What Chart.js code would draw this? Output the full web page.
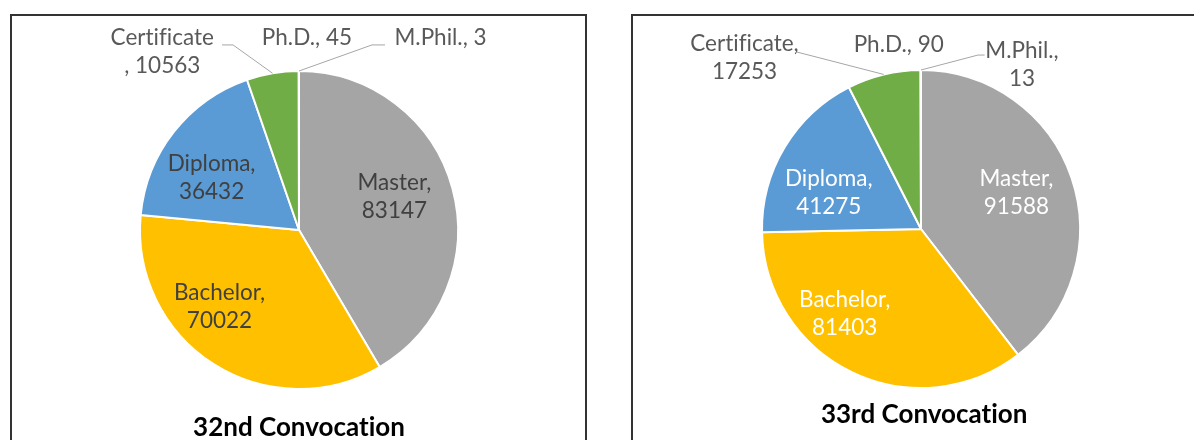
<!DOCTYPE html>
<html>
<head>
<meta charset="utf-8">
<script src="https://cdn.jsdelivr.net/npm/chart.js@4.4.0/dist/chart.umd.min.js"></script>
<style>
  body { margin: 0; background: #fff; width: 1194px; height: 440px; overflow: hidden; position: relative; }
  .box { position: absolute; top: 14px; height: 450px; border: 2px solid #333; box-sizing: border-box; background: #fff; }
  #box1 { left: 10px; width: 577px; }
  #box2 { left: 631px; width: 600px; }
  canvas { display: block; font-variant-ligatures: none; }
</style>
</head>
<body>
<div class="box" id="box1"><canvas id="pie32"></canvas></div>
<div class="box" id="box2"><canvas id="pie33"></canvas></div>
<script>
var categories = ['Master', 'Bachelor', 'Diploma', 'Certificate', 'Ph.D.', 'M.Phil.'];
var values32 = [83147, 70022, 36432, 10563, 45, 3];
var values33 = [91588, 81403, 41275, 17253, 90, 13];
var titles = ['32nd Convocation', '33rd Convocation'];
var colors = ['#a5a5a5', '#ffc000', '#5b9bd5', '#70ad47', '#a5a5a5', '#ed7d31'];

var FONT = 'Lato, "Open Sans", sans-serif';
var R = 159;

// label layout, in units of the pie radius from its centre
var layout32 = {
  cx: 287, cy: 214,
  textColor: ['#404040', '#404040', '#404040', '#595959', '#595959', '#595959'],
  wrap: ['split', 'split', 'split', 'lead', 'single', 'single'],
  pos: [[0.60, -0.21], [-0.50, 0.48], [-0.55, -0.33], [-0.86, -1.12], [0.05, -1.21], [0.89, -1.21]],
  leaders: { 3: [[-0.484, -1.164], [-0.415, -1.164]], 5: [[0.541, -1.164], [0.459, -1.164]] },
  title: [0, 1.24]
};
var layout33 = {
  cx: 288, cy: 213,
  textColor: ['#ffffff', '#ffffff', '#ffffff', '#595959', '#595959', '#595959'],
  wrap: ['split', 'split', 'split', 'split', 'single', 'split'],
  pos: [[0.60, -0.23], [-0.48, 0.53], [-0.58, -0.23], [-1.11, -1.08], [-0.14, -1.16], [0.635, -1.03]],
  leaders: { 3: [[-0.78, -1.113]], 5: [[0.40, -1.094], [0.358, -1.094]] },
  title: [0.02, 1.17]
};

function labelLines(wrap, name, value) {
  if (wrap === 'split') return [name + ',', String(value)];
  if (wrap === 'lead') return [name, ', ' + value];
  return [name + ', ' + value];
}

var labelPlugin = {
  id: 'pieLabels',
  afterDatasetsDraw: function(chart) {
    var ctx = chart.ctx;
    var lay = chart.options.plugins.pieLabels;
    var meta = chart.getDatasetMeta(0);
    var vals = chart.data.datasets[0].data;
    var cx = meta.data[0].x, cy = meta.data[0].y, r = meta.data[0].outerRadius;
    ctx.save();
    if ('textRendering' in ctx) ctx.textRendering = 'optimizeSpeed';
    // leader lines
    ctx.strokeStyle = '#a6a6a6';
    ctx.lineWidth = 1;
    Object.keys(lay.leaders).forEach(function(k) {
      var arc = meta.data[k];
      var mid = (arc.startAngle + arc.endAngle) / 2;
      var pts = lay.leaders[k];
      ctx.beginPath();
      ctx.moveTo(cx + pts[0][0] * r, cy + pts[0][1] * r);
      for (var i = 1; i < pts.length; i++) ctx.lineTo(cx + pts[i][0] * r, cy + pts[i][1] * r);
      ctx.lineTo(cx + Math.cos(mid) * r, cy + Math.sin(mid) * r);
      ctx.stroke();
    });
    // labels
    ctx.font = '22.5px ' + FONT;
    ctx.textAlign = 'center';
    ctx.textBaseline = 'middle';
    chart.data.labels.forEach(function(name, i) {
      var lines = labelLines(lay.wrap[i], name, vals[i]);
      var x = cx + lay.pos[i][0] * r, y = cy + lay.pos[i][1] * r;
      ctx.fillStyle = lay.textColor[i];
      var lh = 28;
      var y0 = y - (lines.length - 1) * lh / 2;
      lines.forEach(function(t, j) { ctx.fillText(t, x, y0 + j * lh); });
    });
    // title
    ctx.font = 'bold 26px ' + FONT;
    ctx.fillStyle = '#000';
    ctx.fillText(lay.titleText, cx + lay.title[0] * r, cy + lay.title[1] * r);
    ctx.restore();
  }
};

function makePie(id, box, values, lay, title) {
  var el = document.getElementById(box);
  var w = el.clientWidth, h = el.clientHeight;
  var cv = document.getElementById(id);
  cv.width = w; cv.height = h;
  cv.style.width = w + 'px'; cv.style.height = h + 'px';
  lay.titleText = title;
  var half = R + 2;
  return new Chart(cv.getContext('2d'), {
    type: 'pie',
    data: {
      labels: categories,
      datasets: [{
        data: values,
        backgroundColor: colors,
        borderColor: '#ffffff',
        borderWidth: 2,
        radius: R
      }]
    },
    options: {
      responsive: false,
      animation: false,
      layout: { padding: { left: lay.cx - half, right: w - lay.cx - half, top: lay.cy - half, bottom: h - lay.cy - half } },
      plugins: { legend: { display: false }, tooltip: { enabled: false }, pieLabels: lay }
    },
    plugins: [labelPlugin]
  });
}

makePie('pie32', 'box1', values32, layout32, titles[0]);
makePie('pie33', 'box2', values33, layout33, titles[1]);
</script>
</body>
</html>
